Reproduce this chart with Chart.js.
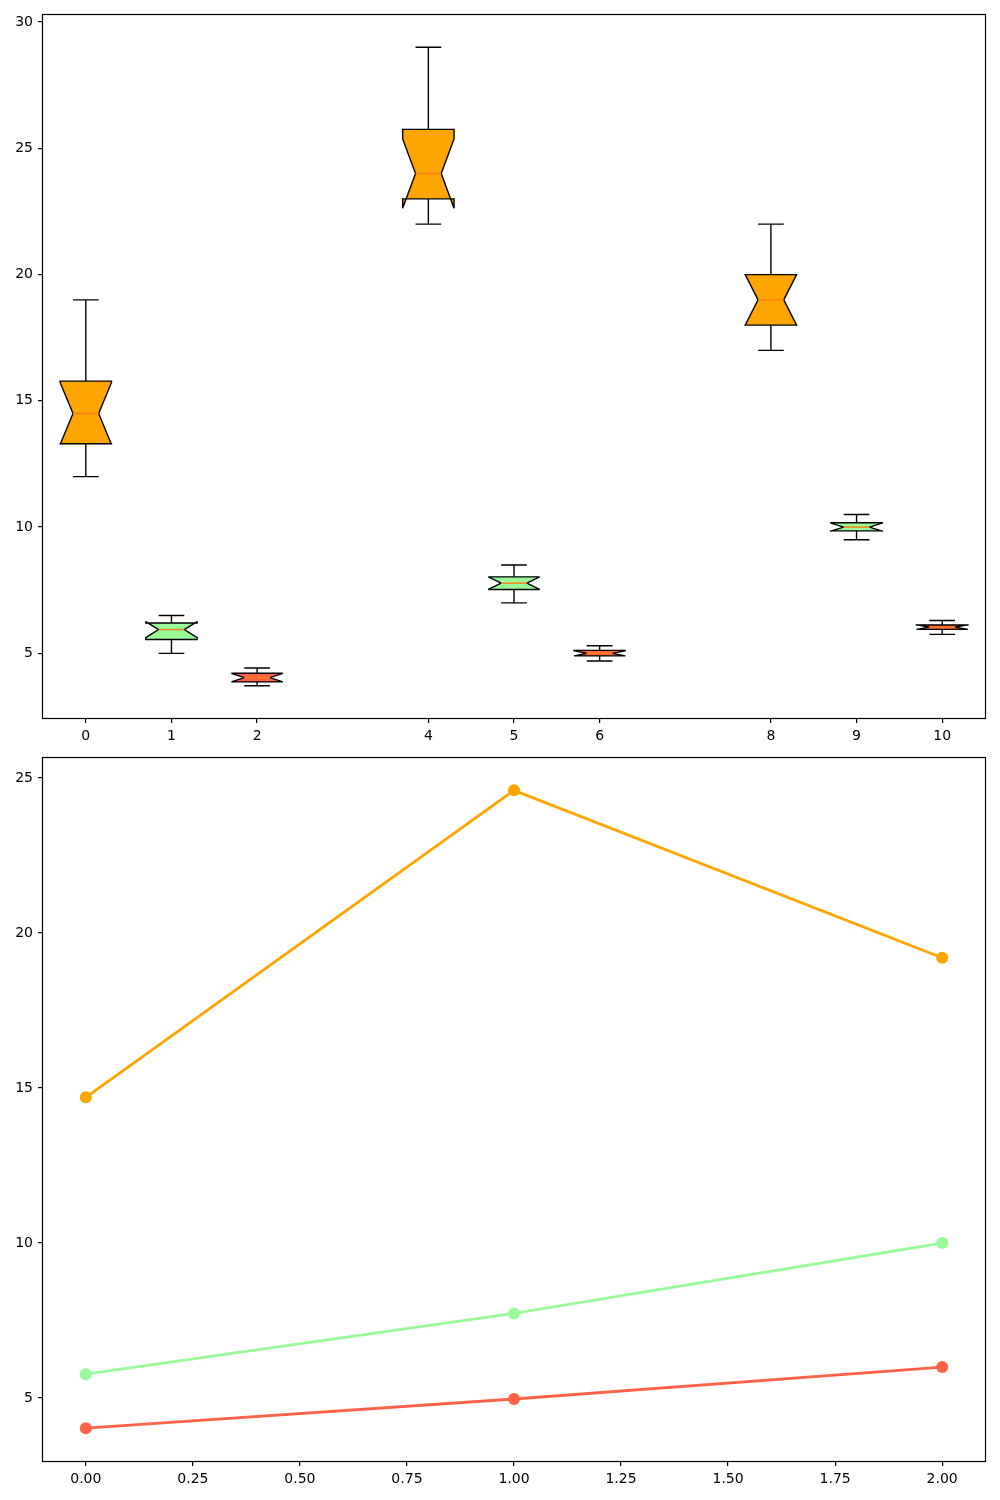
<!DOCTYPE html>
<html>
<head>
<meta charset="utf-8">
<script src="https://cdn.jsdelivr.net/npm/chart.js@4/dist/chart.umd.min.js"></script>
<style>
html,body{margin:0;padding:0;background:#fff;}
#wrap{position:relative;width:1000px;height:1500px;}
canvas{position:absolute;left:0;}
</style>
</head>
<body>
<div id="wrap">
<canvas id="c1" width="1000" height="745" style="top:0"></canvas>
<canvas id="c2" width="1000" height="755" style="top:745px"></canvas>
</div>
<script>
// ---- Top chart: notched box plots ----
const boxPositions = [0, 1, 2, 4, 5, 6, 8, 9, 10];
const boxColors = ['#FFA500', '#98FB98', '#FF6347', '#FFA500', '#98FB98', '#FF6347', '#FFA500', '#98FB98', '#FF6347'];
const whiskerLow  = [12,    5.0,  3.72, 22,    7.0,  4.7,  17,   9.5,   5.75];
const quartile1   = [13.3,  5.55, 3.87, 23,    7.53, 4.9,  18,   9.85,  5.95];
const medians     = [14.5,  5.94, 4.04, 24,    7.78, 5.0,  19,   10.0,  6.04];
const quartile3   = [15.78, 6.2,  4.21, 25.75, 8.03, 5.12, 20,   10.17, 6.12];
const whiskerHigh = [19,    6.5,  4.42, 29,    8.5,  5.3,  22,   10.5,  6.3];
const notchLow    = [13.27, 5.62, 3.87, 22.63, 7.53, 4.9,  18.0, 9.84,  5.95];
const notchHigh   = [15.73, 6.26, 4.21, 25.37, 8.03, 5.11, 20.0, 10.16, 6.13];
const topXTicks = [0, 1, 2, 4, 5, 6, 8, 9, 10];
const topYTicks = [5, 10, 15, 20, 25, 30];

// ---- Bottom chart: lines ----
const lineX = [0, 1, 2];
const orangeLine = [14.7, 24.6, 19.2];
const greenLine  = [5.77, 7.73, 10.0];
const redLine    = [4.03, 4.97, 6.0];
const bottomXTicks = [0, 0.25, 0.5, 0.75, 1.0, 1.25, 1.5, 1.75, 2.0];
const bottomYTicks = [5, 10, 15, 20, 25];

Chart.defaults.font.family = '"DejaVu Sans", sans-serif';
Chart.defaults.font.size = 14;
Chart.defaults.color = '#000';

const framePlugin = {
  id: 'frame',
  afterDraw(chart) {
    const a = chart.chartArea, ctx = chart.ctx;
    ctx.save();
    ctx.strokeStyle = '#000';
    ctx.lineWidth = 1.2;
    ctx.strokeRect(Math.round(a.left) - 0.5, Math.round(a.top) - 0.5, Math.round(a.right - a.left) + 1, Math.round(a.bottom - a.top) + 1);
    ctx.restore();
  }
};

const boxPlugin = {
  id: 'boxes',
  afterDatasetsDraw(chart) {
    const xs = chart.scales.x, ys = chart.scales.y, ctx = chart.ctx;
    const half = 0.3, nh = 0.15, cap = 0.15;
    ctx.save();
    ctx.lineWidth = 1.4;
    ctx.lineJoin = 'miter';
    ctx.miterLimit = 2;
    ctx.strokeStyle = '#000';
    for (let i = 0; i < boxPositions.length; i++) {
      const c = boxPositions[i];
      const X = v => xs.getPixelForValue(v);
      const Y = v => ys.getPixelForValue(v);
      // whiskers
      ctx.beginPath();
      ctx.moveTo(X(c), Y(quartile1[i])); ctx.lineTo(X(c), Y(whiskerLow[i]));
      ctx.moveTo(X(c), Y(quartile3[i])); ctx.lineTo(X(c), Y(whiskerHigh[i]));
      ctx.moveTo(X(c - cap), Y(whiskerLow[i])); ctx.lineTo(X(c + cap), Y(whiskerLow[i]));
      ctx.moveTo(X(c - cap), Y(whiskerHigh[i])); ctx.lineTo(X(c + cap), Y(whiskerHigh[i]));
      ctx.stroke();
      // notched box
      const L = X(c - half), R = X(c + half), CL = X(c - nh), CR = X(c + nh);
      ctx.beginPath();
      ctx.moveTo(L, Y(quartile1[i]));
      ctx.lineTo(L, Y(notchLow[i]));
      ctx.lineTo(CL, Y(medians[i]));
      ctx.lineTo(L, Y(notchHigh[i]));
      ctx.lineTo(L, Y(quartile3[i]));
      ctx.lineTo(R, Y(quartile3[i]));
      ctx.lineTo(R, Y(notchHigh[i]));
      ctx.lineTo(CR, Y(medians[i]));
      ctx.lineTo(R, Y(notchLow[i]));
      ctx.lineTo(R, Y(quartile1[i]));
      ctx.closePath();
      ctx.fillStyle = boxColors[i];
      ctx.fill();
      ctx.strokeStyle = '#000';
      ctx.stroke();
      // median
      ctx.beginPath();
      ctx.strokeStyle = '#ff7f0e';
      ctx.moveTo(CL, Y(medians[i])); ctx.lineTo(CR, Y(medians[i]));
      ctx.stroke();
      ctx.strokeStyle = '#000';
    }
    ctx.restore();
  }
};

function axisCommon(tickList, fmt) {
  return {
    type: 'linear',
    border: { display: false },
    grid: { display: true, drawOnChartArea: false, drawTicks: true, tickLength: 5, color: '#000', lineWidth: 1.2 },
    ticks: { padding: 5, color: '#000', autoSkip: false, maxRotation: 0, callback: fmt },
    afterBuildTicks: s => { s.ticks = tickList.map(v => ({ value: v })); }
  };
}

new Chart(document.getElementById('c1'), {
  type: 'scatter',
  data: { datasets: [{ data: [], pointRadius: 0 }] },
  options: {
    responsive: false, animation: false,
    layout: { padding: { top: 15, right: 15, left: 0, bottom: 0 } },
    plugins: { legend: { display: false }, tooltip: { enabled: false } },
    scales: {
      x: Object.assign(axisCommon(topXTicks, v => String(v)), { min: -0.5, max: 10.5, afterFit: s => { s.height = 27; } }),
      y: Object.assign(axisCommon(topYTicks, v => String(v)), { min: 2.44, max: 30.28, afterFit: s => { s.width = 43; } })
    }
  },
  plugins: [boxPlugin, framePlugin]
});

function lineDs(vals, color) {
  return {
    data: lineX.map((x, i) => ({ x: x, y: vals[i] })),
    showLine: true, borderColor: color, backgroundColor: color,
    borderWidth: 2.8, pointRadius: 6, pointBorderWidth: 0, pointBackgroundColor: color
  };
}

new Chart(document.getElementById('c2'), {
  type: 'scatter',
  data: { datasets: [lineDs(orangeLine, '#FFA500'), lineDs(greenLine, '#98FB98'), lineDs(redLine, '#FF6347')] },
  options: {
    responsive: false, animation: false,
    layout: { padding: { top: 13, right: 15, left: 0, bottom: 0 } },
    plugins: { legend: { display: false }, tooltip: { enabled: false } },
    scales: {
      x: Object.assign(axisCommon(bottomXTicks, v => Number(v).toFixed(2)), { min: -0.1, max: 2.1, afterFit: s => { s.height = 39; } }),
      y: Object.assign(axisCommon(bottomYTicks, v => String(v)), { min: 2.97, max: 25.63, afterFit: s => { s.width = 43; } })
    }
  },
  plugins: [framePlugin]
});
</script>
</body>
</html>
